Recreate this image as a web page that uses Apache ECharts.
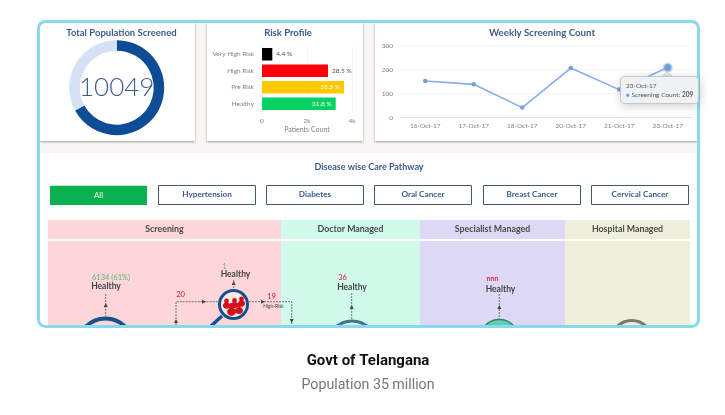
<!DOCTYPE html>
<html>
<head>
<meta charset="utf-8">
<style>html,body{margin:0;padding:0;background:#fff}#container{width:725px;height:415px}</style>
</head>
<body>
<div id="container"></div>
<script src="https://cdn.jsdelivr.net/npm/echarts@6/dist/echarts.min.js"></script>
<script>
var screened = 10049;
var notScreened = 4951;
var riskNames = ['Very High Risk', 'High Risk', 'Pre Risk', 'Healthy'];
var riskCounts = [458, 2933, 3644, 3276];
var riskLabels = ['4.4 %', '28.5 %', '35.3 %', '31.8 %'];
var riskColors = ['#000000', '#fb0007', '#ffc800', '#06d35f'];
var weekDates = ['16-Oct-17', '17-Oct-17', '18-Oct-17', '20-Oct-17', '21-Oct-17', '23-Oct-17'];
var weekCounts = [153, 139, 42, 207, 117, 209];
var diseaseTabs = ['All', 'Hypertension', 'Diabetes', 'Oral Cancer', 'Breast Cancer', 'Cervical Cancer'];
var pathwayColumns = ['Screening', 'Doctor Managed', 'Specialist Managed', 'Hospital Managed'];

var navy = '#3c5b8c';
var grey = '#808080';
var font = 'Lato';

function txt(x, y, s, size, color, weight, family) {
    return {
        type: 'text', x: x, y: y,
        style: { text: s, fontSize: size, fill: color, fontWeight: weight || 'normal', fontFamily: family || font, align: 'center', verticalAlign: 'middle' }
    };
}
function box(x, y, w, h, fill, stroke, extra) {
    var st = { fill: fill, stroke: stroke || null, lineWidth: stroke ? 1 : 0 };
    for (var k in extra) st[k] = extra[k];
    return { type: 'rect', shape: { x: x, y: y, width: w, height: h, r: extra && extra.r ? extra.r : 0 }, style: st };
}
function dashed(points) {
    return { type: 'polyline', shape: { points: points }, style: { fill: null, stroke: '#555', lineWidth: 0.8, lineDash: [2, 1] } };
}
function arrow(x, y, dir) {
    var p = dir == 'up' ? [[x - 2, y + 2], [x + 2, y + 2], [x, y - 2]]
        : dir == 'down' ? [[x - 2, y - 2], [x + 2, y - 2], [x, y + 2]]
        : [[x - 2, y - 2], [x - 2, y + 2], [x + 2, y]];
    return { type: 'polygon', shape: { points: p }, style: { fill: '#444' } };
}
function ring(cx, cy, r, color, w, fill) {
    return { type: 'circle', shape: { cx: cx, cy: cy, r: r }, style: { fill: fill || null, stroke: color, lineWidth: w } };
}
function person(x, y, s) {
    return [
        { type: 'circle', shape: { cx: x, cy: y, r: 2.8 * s }, style: { fill: '#d2101c' } },
        { type: 'ellipse', shape: { cx: x, cy: y + 5.4 * s, rx: 4.2 * s, ry: 3.8 * s }, style: { fill: '#d2101c' } }
    ];
}

var g = [];
// dashboard chrome
g.push(box(38, 21, 660, 306, '#ffffff'));
g.push(box(38, 21, 660, 132, '#f7f6f2'));
[[40, 155], [207, 156], [375, 323]].forEach(function (c) {
    g.push(box(c[0], 22, c[1], 119, '#ffffff', null, { shadowBlur: 2, shadowColor: 'rgba(90,90,80,0.55)', shadowOffsetY: 1 }));
});
g.push(txt(369, 167, 'Disease wise Care Pathway', 9, navy, 'bold'));

var tabX = [50, 158, 266, 374, 483, 591];
diseaseTabs.forEach(function (name, i) {
    if (i == 0) {
        g.push(box(tabX[i], 185.7, 97, 19.3, '#0bb14f'));
        g.push(txt(tabX[i] + 48.5, 195.7, name, 8, '#e8f8ee'));
    } else {
        g.push(box(tabX[i] + 0.5, 185.5, 97, 19, '#ffffff', '#3d5a72'));
        g.push(txt(tabX[i] + 49, 194.5, name, 8.2, navy, 'bold'));
    }
});

var colX = [48, 281, 420, 565, 690];
var colFill = ['#fcd6d9', '#d0fae9', '#ddd8f6', '#eef0db'];
pathwayColumns.forEach(function (name, i) {
    g.push(box(colX[i], 220, colX[i + 1] - colX[i], 105, colFill[i]));
    g.push(txt((colX[i] + colX[i + 1]) / 2, 229, name, 8.8, '#4a4a4a', 'bold'));
});
g.push(box(48, 239, 642, 2, '#ffffff'));

// pathway diagram, cut off by the frame like the reference
g.push(txt(111, 278, '6134 (61%)', 7.5, '#62b673'));
g.push(txt(106, 286.5, 'Healthy', 8.5, '#444', 'bold'));
g.push(dashed([[105.7, 294], [105.7, 316]]));
g.push(arrow(105.7, 305, 'up'));
g.push(ring(105.5, 346.5, 28, '#17508f', 4));

g.push(dashed([[176, 325], [176, 301.7], [218, 301.7]]));
g.push(dashed([[249, 301.7], [291.7, 301.7], [291.7, 325]]));
g.push(arrow(204, 301.7, 'right'));
g.push(arrow(263, 301.7, 'right'));
g.push(arrow(291.7, 321, 'down'));
g.push(arrow(176, 321, 'up'));
g.push(txt(180.5, 295, '20', 7.5, '#d0202c'));
g.push(txt(271.5, 297, '19', 7.5, '#d0202c'));
g.push(txt(273.5, 306.5, 'High-Risk', 4.8, '#444'));
g.push(txt(224.5, 266.5, '1', 7, '#62b673'));
g.push(txt(235.5, 274.5, 'Healthy', 8.5, '#444', 'bold'));
g.push(dashed([[233.7, 280], [233.7, 289]]));
g.push(arrow(233.7, 283, 'up'));
g.push({ type: 'line', shape: { x1: 211, y1: 326, x2: 222, y2: 316 }, style: { stroke: '#17508f', lineWidth: 3.5 } });
g.push(ring(233.5, 304.5, 14, '#17508f', 3, '#fbe9ea'));
[[226.5, 301, 0.85], [241.5, 299, 0.85], [234.5, 300.5, 0.85], [231.5, 306, 1.05]].forEach(function (p) {
    g = g.concat(person(p[0], p[1], p[2]));
});
g.push({ type: 'circle', shape: { cx: 239, cy: 305, r: 2.4 }, style: { fill: '#d2101c' } });
g.push({ type: 'ellipse', shape: { cx: 239, cy: 310.5, rx: 4, ry: 3.6 }, style: { fill: '#d2101c' } });

g.push(txt(342.5, 277.5, '36', 7.5, '#d0202c'));
g.push(txt(352, 287.5, 'Healthy', 8.5, '#444', 'bold'));
g.push(dashed([[351.7, 293], [351.7, 319]]));
g.push(arrow(351.7, 307, 'up'));
g.push(ring(352, 345, 24, '#44718e', 3));

g.push(txt(492.5, 279, 'nnn', 7, '#e02858', 'bold'));
g.push(txt(500.5, 289, 'Healthy', 8.5, '#444', 'bold'));
g.push(dashed([[499.3, 294], [499.3, 319]]));
g.push(arrow(499.3, 307, 'up'));
g.push(ring(499.3, 339, 19.5, '#2f7f78', 1.5, '#5fd0ab'));

g.push(ring(631.7, 341, 20.5, '#77796a', 3));

// cover what runs past the frame, then the frame itself
g.push(box(30, 327, 680, 88, '#ffffff'));
g.push(box(38.5, 21.5, 660, 305, null, '#88dae9', { lineWidth: 3, r: 7 }));
g.push(txt(368, 361, 'Govt of Telangana', 15, '#111', 'bold', 'Roboto'));
g.push(txt(368, 385, 'Population 35 million', 14.2, '#777', 'normal', 'Roboto'));
// tooltip pointer
g.push({ type: 'polygon', z: 20, shape: { points: [[662, 76], [672, 76], [667, 72]] }, style: { fill: '#eef1f4', stroke: '#c3c8cc', lineWidth: 0.7 } });

var titleStyle = { fontSize: 9.5, fontWeight: 'bold', color: navy, fontFamily: font };
var dom = document.getElementById('container');
var myChart = echarts.init(dom, null, { renderer: 'canvas' });
var option = {
    animation: false,
    backgroundColor: '#fff',
    textStyle: { fontFamily: font },
    title: [
        { text: 'Total Population Screened', left: 116.5, top: 23, textAlign: 'center', textStyle: titleStyle },
        { text: 'Risk Profile', left: 283, top: 23, textAlign: 'center', textStyle: titleStyle },
        { text: 'Weekly Screening Count', left: 537, top: 23, textAlign: 'center', textStyle: { fontSize: 9.7, fontWeight: 'bold', color: navy, fontFamily: font } }
    ],
    tooltip: {
        trigger: 'item',
        alwaysShowContent: true,
        transitionDuration: 0,
        position: [620, 76],
        padding: [4, 5],
        backgroundColor: 'rgba(238,241,244,0.95)',
        borderColor: '#c3c8cc',
        borderWidth: 1,
        textStyle: { fontSize: 6.5, color: '#555', fontFamily: font, lineHeight: 9 },
        formatter: function (p) {
            return p.name + '<br/><span style="color:#6f9ad8">&#9679;</span> ' + p.seriesName + ': <b>' + p.value + '</b>';
        }
    },
    grid: [
        { left: 262, right: 373, top: 46, bottom: 303 },
        { left: 401, right: 33, top: 45.7, bottom: 297.3 }
    ],
    xAxis: [{
        gridIndex: 0, type: 'value', min: 0, max: 4000, interval: 2000,
        name: 'Patients Count', nameLocation: 'middle', nameGap: 14,
        nameTextStyle: { fontSize: 7, color: grey },
        axisLine: { show: false }, axisTick: { show: false },
        splitLine: { lineStyle: { color: '#f2f2f2', width: 0.7 } },
        axisLabel: { fontSize: 6.5, color: grey, margin: 5, formatter: function (v) { return v ? v / 1000 + 'k' : '0'; } }
    }, {
        gridIndex: 1, type: 'category', data: weekDates, boundaryGap: true,
        axisLine: { lineStyle: { color: '#d8d8d8', width: 0.7 } },
        axisTick: { lineStyle: { color: '#d8d8d8', width: 0.7 }, length: 4 },
        axisLabel: { fontSize: 6.5, color: grey, interval: 0, margin: 5 }
    }],
    yAxis: [{
        gridIndex: 0, type: 'category', data: riskNames, inverse: true,
        axisLine: { lineStyle: { color: '#f0f0f0', width: 0.7 } }, axisTick: { show: false },
        axisLabel: { fontSize: 6.5, color: grey, margin: 8, interval: 0 }
    }, {
        gridIndex: 1, type: 'value', min: 0, max: 300, interval: 100,
        axisLine: { show: false }, axisTick: { show: false },
        splitLine: { lineStyle: { color: '#f2f2f2', width: 0.7 } },
        axisLabel: { fontSize: 6.5, color: grey, margin: 8 }
    }],
    series: [{
        type: 'pie', silent: true, center: [116.7, 87.7], radius: [37, 47.5], startAngle: 90,
        tooltip: { show: false },
        label: {
            show: true, position: 'center', fontSize: 26, fontWeight: 300, color: navy, fontFamily: font,
            formatter: function () { return String(screened); }
        },
        labelLine: { show: false },
        data: [
            { value: screened, name: 'Screened', itemStyle: { color: '#0f4c96' } },
            { value: notScreened, name: 'Remaining', itemStyle: { color: '#d5e2f5' }, label: { show: false } }
        ]
    }, {
        type: 'bar', silent: true, xAxisIndex: 0, yAxisIndex: 0, barWidth: 12.5,
        tooltip: { show: false },
        data: riskCounts.map(function (v, i) {
            var inside = i >= 2;
            return {
                value: v,
                itemStyle: { color: riskColors[i] },
                label: {
                    show: true, formatter: riskLabels[i], fontSize: 6.5,
                    position: inside ? 'insideRight' : 'right',
                    color: inside ? '#ffffff' : '#555', distance: 4
                }
            };
        })
    }, {
        type: 'line', name: 'Screening Count', xAxisIndex: 1, yAxisIndex: 1, data: weekCounts,
        symbol: 'circle', symbolSize: 4.5,
        lineStyle: { color: '#7a9fd8', width: 1.6 },
        itemStyle: { color: '#7a9fd8' },
        emphasis: { scale: 1.6, itemStyle: { color: '#6f9ad8', borderColor: 'rgba(124,170,230,0.45)', borderWidth: 3 } }
    }],
    graphic: g
};
myChart.setOption(option);
myChart.dispatchAction({ type: 'highlight', seriesIndex: 2, dataIndex: 5 });
myChart.dispatchAction({ type: 'showTip', seriesIndex: 2, dataIndex: 5 });
window.onresize = myChart.resize;
</script>
</body>
</html>
